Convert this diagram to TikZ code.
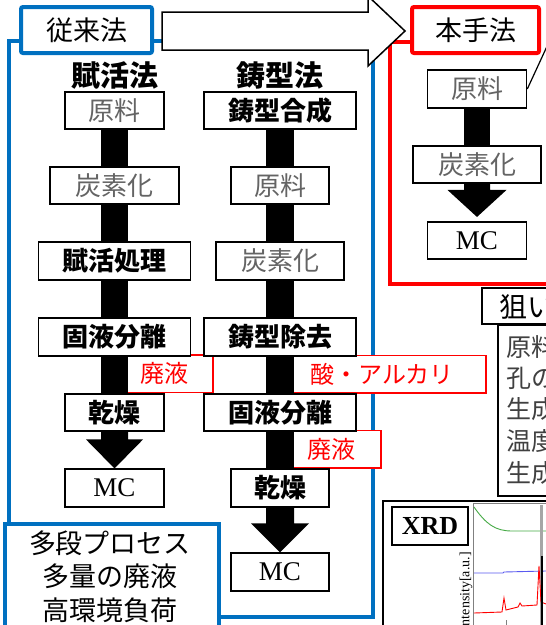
\documentclass[tikz,border=0pt]{standalone}
\usepackage{fontspec}
\newfontfamily\jp{Noto Sans CJK JP}
\newfontfamily\tnr{Liberation Serif}
\usetikzlibrary{calc}
\pgfdeclarelayer{bg}
\pgfsetlayers{bg,main}
\definecolor{myblue}{RGB}{0,112,192}
\definecolor{myred}{RGB}{255,0,0}
\definecolor{txtgray}{RGB}{100,100,100}
\definecolor{dgray}{RGB}{64,64,64}
\definecolor{pgreen}{RGB}{70,170,70}
\definecolor{pblue}{RGB}{90,90,240}
\tikzset{
  fbox/.style={draw=black, line width=1.6pt, fill=white, inner sep=0pt,
    minimum height=37.5pt, text height=19.8pt, text depth=0pt,
    font=\jp\fontsize{26}{30}\selectfont},
  gtxt/.style={text=txtgray},
  btxt/.style={font=\jp\bfseries\fontsize{26}{30}\selectfont},
  mcbox/.style={fbox, font=\tnr\fontsize{27}{30}\selectfont, text height=17.9pt},
  wbox/.style={draw=myred, line width=1.5pt, fill=white, inner sep=0pt,
    minimum height=37.5pt, text height=18.2pt, text depth=0pt, text=myred,
    font=\jp\fontsize{24}{28}\selectfont},
  title/.style={inner sep=0pt, text height=22pt, text depth=0pt,
    font=\jp\bfseries\fontsize{29}{32}\selectfont},
  bar/.style={line width=27pt},
  headbox/.style={line width=4pt, fill=white, rounded corners=2pt, inner sep=0pt,
    minimum width=131pt, minimum height=46pt, text height=20.5pt, text depth=0pt,
    font=\jp\fontsize{27}{30}\selectfont},
  plain/.style={inner sep=0pt, text height=20.5pt, text depth=0pt,
    font=\jp\fontsize{27}{30}\selectfont},
}
\newcommand{\fatarrow}[5]{%
  \fill (#1) ++(-#3,0) -- ($(#2)+(-#3,-#5)$) -- ($(#2)+(-#4,-#5)$) -- (#2)
    -- ($(#2)+(#4,-#5)$) -- ($(#2)+(#3,-#5)$) -- ($(#1)+(#3,0)$) -- cycle;}
\begin{document}
\begin{tikzpicture}[x=1pt,y=-1pt]
\useasboundingbox (0,0) rectangle (546,625);

% ---------- conventional: activation ----------
\node[title] (T1) at (115,75) {賦活法};
\node[fbox, gtxt, minimum width=99pt]  (L1) at (114.5,110.5) {原料};
\node[fbox, gtxt, minimum width=129pt] (L2) at (114.5,185.5) {炭素化};
\node[fbox, btxt, minimum width=152pt] (L3) at (114.5,261) {賦活処理};
\node[fbox, btxt, minimum width=152pt] (L4) at (114.5,337) {固液分離};
\node[fbox, btxt, minimum width=99pt]  (L5) at (114.5,412.5) {乾燥};
\node[mcbox, minimum width=99pt]       (L6) at (114.5,488) {MC};

% ---------- conventional: template ----------
\node[title] (T2) at (280,75) {鋳型法};
\node[fbox, btxt, minimum width=152pt] (R1) at (280,110.5) {鋳型合成};
\node[fbox, gtxt, minimum width=98pt]  (R2) at (280,185.5) {原料};
\node[fbox, gtxt, minimum width=128pt] (R3) at (280,261) {炭素化};
\node[fbox, btxt, minimum width=152pt] (R4) at (280,337) {鋳型除去};
\node[fbox, btxt, minimum width=152pt] (R5) at (280,412.5) {固液分離};
\node[fbox, btxt, minimum width=98pt]  (R6) at (280,488) {乾燥};
\node[mcbox, minimum width=98pt]       (R7) at (280,572) {MC};

% ---------- this method ----------
\node[fbox, gtxt, minimum width=99pt]  (H1) at (477,89) {原料};
\node[fbox, gtxt, minimum width=128pt] (H2) at (477,164.5) {炭素化};
\node[mcbox, minimum width=99pt]       (H3) at (477,240.5) {MC};
\coordinate (H3tip) at ($(H3.north)+(0,-4)$);

% ---------- headers ----------
\node[headbox, draw=myblue] (old) at (86.5,30) {従来法};
\node[headbox, draw=myred, minimum width=127pt] (new) at (475.5,30) {本手法};
\draw[line width=1.5pt, fill=white, line join=miter]
  (162,12) -- (368,12) -- (368,-4) -- (405,31) -- (368,66) -- (368,50) -- (162,50) -- cycle;

% callout line
\coordinate (callend) at (549,42);
\draw[line width=1.2pt] (H1.east) -- (callend);

% ---------- issues box ----------
\node[draw=myblue, line width=4pt, fill=white, anchor=north west, inner sep=0pt,
  minimum width=214pt, minimum height=130pt] (issue) at (3,522) {};
\node[plain] (i1) at (110,543) {多段プロセス};
\node[plain] (i2) at (110,576) {多量の廃液};
\node[plain] (i3) at (110,610) {高環境負荷};

% ---------- aims ----------
\node[draw, line width=1.6pt, fill=white, anchor=west, inner sep=0pt,
  minimum width=80pt, minimum height=36pt] (aimbox) at (481,306) {};
\node[plain, anchor=west, text height=21pt, font=\jp\fontsize{28}{30}\selectfont] (aim) at (499,307) {狙い};
\node[draw, line width=1.5pt, anchor=north west, inner sep=0pt,
  minimum width=70pt, minimum height=171pt] (aimlist) at (497,324) {};
\begin{scope}[every node/.style={plain, anchor=west, text=dgray, text height=19pt,
    font=\jp\fontsize{25}{28}\selectfont}]
\node (a1) at (506,347) {原料};
\node (a2) at (506,378) {孔の};
\node (a3) at (506,409) {生成};
\node (a4) at (506,441) {温度};
\node (a5) at (506,472.5) {生成};
\end{scope}

% ---------- XRD panel ----------
\node[draw, line width=1.5pt, anchor=north west, inner sep=0pt,
  minimum width=180pt, minimum height=140pt] (xrdpanel) at (382,500) {};
\node[draw, line width=2pt, fill=white, inner sep=0pt, minimum width=76pt, minimum height=38pt,
  text height=17.2pt, text depth=0pt, font=\tnr\bfseries\fontsize{26}{28}\selectfont] (xrd) at (430,526) {XRD};
\draw[gray, line width=0.7pt] (473,640) -- (473,503) -- (560,503);
\draw[pgreen, line width=0.9pt] (474,507) .. controls (486,524) and (495,531) .. (512,531) -- (546,531);
\draw[pblue, line width=0.9pt] (474,573) -- (503,573) -- (504,572) -- (546,571);
\draw[gray!70, line width=3pt] (541.5,505) -- (541.5,625);
\draw[red, line width=0.9pt] (474,613) -- (502,612) -- (504,598) -- (506,610) -- (518,607)
  -- (520,603) -- (522,606) -- (537,605) -- (539,566) -- (541,602) -- (546,604);
\draw[black, line width=1.2pt] (542,556) -- (542,625);
\draw[gray, line width=0.7pt] (506,620) -- (506,625);
\node[rotate=90, anchor=east, inner sep=0pt, font=\tnr\fontsize{14}{14}\selectfont] (ylab) at (466,552) {Intensity[a.u.]};

% ---------- background layer ----------
\begin{pgfonlayer}{bg}
\fill[white] (0,0) rectangle (546,625);
\draw[myblue, line width=4pt] (9,41) rectangle (373,617);
\draw[myred, line width=4pt] (412,42) -- (390,42) -- (390,284) -- (560,284);
\node[wbox, minimum width=98pt]  (W1) at (164,373.5) {廃液};
\node[wbox, minimum width=208pt] (W2) at (382,374) {酸・アルカリ};
\node[wbox, minimum width=100pt] (W3) at (331,449) {廃液};
\draw[bar] (L1.south) -- (L2.north);
\draw[bar] (L2.south) -- (L3.north);
\draw[bar] (L3.south) -- (L4.north);
\draw[bar] (L4.south) -- (L5.north);
\fatarrow{L5.south}{L6.north}{13.5}{28.5}{29}
\draw[bar, line width=28pt] (R1.south) -- (R2.north);
\draw[bar, line width=28pt] (R2.south) -- (R3.north);
\draw[bar, line width=28pt] (R3.south) -- (R4.north);
\draw[bar, line width=28pt] (R4.south) -- (R5.north);
\draw[bar, line width=28pt] (R5.south) -- (R6.north);
\fatarrow{R6.south}{R7.north}{14}{29}{29}
\draw[bar, line width=26pt] (H1.south) -- (H2.north);
\fatarrow{H2.south}{H3tip}{13}{29.5}{27}
\end{pgfonlayer}
\end{tikzpicture}
\end{document}
